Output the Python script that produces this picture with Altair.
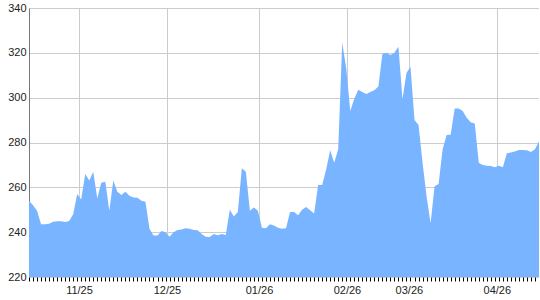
import altair as alt
import pandas as pd

# series values (one per trading day, left to right)
values = [
    254, 252, 249.5, 243.5, 243.5, 243.8, 244.7, 244.9, 244.9, 244.5,
    245, 248, 257, 254.6, 266, 263, 267, 255, 262, 262.5,
    249.5, 263, 258, 256.6, 258, 256.2, 255.5, 255.3, 254, 253.6,
    241.5, 238.5, 238.5, 240.5, 240, 238, 240, 241, 241.2, 241.8,
    241.5, 241, 240.8, 239.2, 238, 237.8, 239.2, 238.6, 239.2, 238.7,
    250, 247, 249, 268.5, 267, 249.5, 251, 249.5, 242, 241.8,
    243.5, 243, 242, 241.5, 241.8, 249, 249, 247.5, 250, 251.2,
    249.8, 248.3, 261, 261, 268, 276.5, 271, 277, 324.5, 313,
    294, 299.5, 303.5, 302.5, 301.6, 302.5, 303.3, 305, 319.5, 320,
    319, 320, 322.7, 299.3, 311, 313.8, 290, 287.8, 271, 256,
    244, 260.5, 261.5, 277, 283.3, 283.5, 295.2, 295.2, 294, 291,
    289, 288.5, 271, 270, 269.6, 269.5, 269, 269.6, 269, 275.2,
    275.5, 276, 276.7, 276.7, 276.5, 275.8, 277, 280.4,
]
month_labels = ["11/25", "12/25", "01/26", "02/26", "03/26", "04/26"]
month_index = [12.45, 34.36, 57.27, 79.18, 94.6, 116.5]
y_ticks = [220, 240, 260, 280, 300, 320, 340]

n = len(values)
df = pd.DataFrame({"i": list(range(n)), "v": values})

label_expr = "[{}][indexof([{}], datum.value)]".format(
    ",".join("'{}'".format(s) for s in month_labels),
    ",".join(str(p) for p in month_index),
)

xscale = alt.Scale(domain=[0, n - 1], nice=False, zero=False)
yscale = alt.Scale(domain=[220, 340], nice=False, zero=False)
font = "Liberation Sans"

yaxis = alt.Axis(values=y_ticks, grid=True, gridColor="#cccccc", ticks=False,
                 domain=True, domainColor="#777777", labelPadding=3,
                 labelFont=font, labelFontSize=11, labelColor="#222222")

area = alt.Chart(df).mark_area(color="#78b4ff", opacity=1).encode(
    x=alt.X("i:Q", scale=xscale, title=None,
            axis=alt.Axis(orient="bottom", values=month_index, labelExpr=label_expr,
                          grid=True, gridColor="#cccccc", ticks=False, domain=False,
                          labelPadding=7, labelFont=font, labelFontSize=11,
                          labelColor="#222222", labelFlush=False)),
    y=alt.Y("v:Q", scale=yscale, title=None, axis=yaxis),
    y2=alt.datum(220),
)

ticks = alt.Chart(df).mark_point(opacity=0).encode(
    x=alt.X("i:Q", scale=xscale, title=None,
            axis=alt.Axis(orient="bottom", values=list(range(n)), labels=False,
                          grid=False, domain=False, ticks=True, tickSize=4,
                          tickColor="#000000")),
    y=alt.Y("v:Q", scale=yscale, title=None, axis=yaxis),
)

chart = alt.layer(area, ticks).resolve_axis(x="independent").properties(
    width=510, height=269,
    autosize=alt.AutoSizeParams(type="none"),
    padding={"left": 29, "top": 8, "right": 0, "bottom": 23},
).configure_view(stroke="#cccccc")

chart.save("out.html", embed_options={"renderer": "svg", "actions": False})
